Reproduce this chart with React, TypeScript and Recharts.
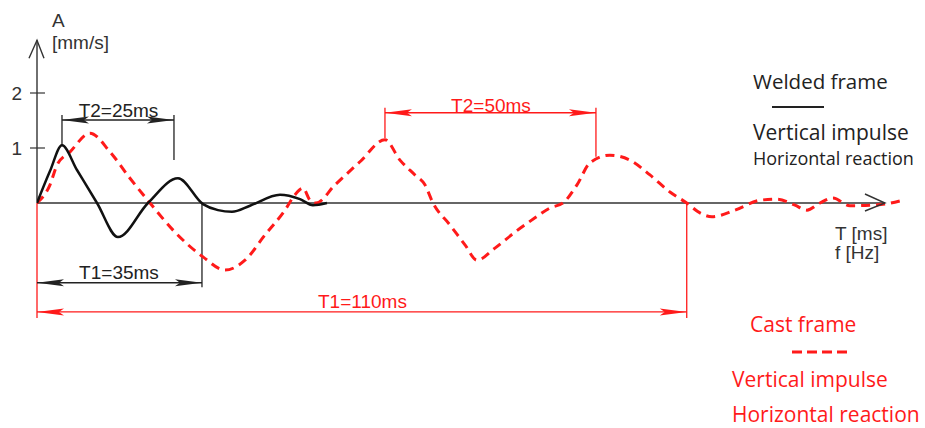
import { LineChart, Line, XAxis, YAxis, ReferenceLine, ReferenceDot } from "recharts";

// welded frame (solid black), time in ms, amplitude in mm/s
const weldedTime = [0, 2.2, 4.23, 6.77, 10.16, 13.71, 18.79, 23.87, 28.1, 30.64, 33.01, 36.06, 41.14, 44.52, 46.72, 49.09];
const weldedAmp = [0, 0.58, 1.05, 0.6, 0, -0.62, 0, 0.45, -0.02, -0.13, -0.16, -0.05, 0.15, 0.07, -0.04, 0];

// cast frame (red dashed)
const castTime = [
  0, 2.2, 3.39, 5.59, 8.97, 12.36, 15.74, 19.13, 23.36, 28.1, 31.83, 35.21, 38.6, 41.98, 43.68, 45.03, 46.22,
  47.23, 50.45, 54.68, 58.91, 61.45, 63.99, 65.68, 67.04, 69.92, 72.46, 74.49, 77.53, 80.92, 84.31, 86.85,
  89.05, 91.42, 93.62, 97.0, 100.39, 103.78, 107.16, 110.0, 112.24, 114.27, 118.17, 122.4, 125.27, 128.32,
  130.35, 132.55, 134.75, 137.63, 141.0, 143.56, 146.6,
];
const castAmp = [
  0, 0.33, 0.69, 0.93, 1.27, 0.93, 0.45, 0, -0.53, -0.98, -1.22, -1.04, -0.58, -0.13, 0.15, 0.27, 0.05,
  0, 0.33, 0.75, 1.15, 0.78, 0.51, 0.33, 0, -0.4, -0.76, -1.04, -0.82, -0.53, -0.27, -0.09,
  0, 0.33, 0.73, 0.87, 0.78, 0.51, 0.2, 0, -0.18, -0.25, -0.13, 0.05, 0.07, -0.04,
  -0.13, 0, 0.09, -0.05, -0.04, -0.02, 0.05,
];

const yTicks = [1, 2];
const xAxisEnd = 143.56;
const yAxisEnd = 2.96;

const welded = weldedTime.map((t, i) => ({ t, a: weldedAmp[i] }));
const cast = castTime.map((t, i) => ({ t, a: castAmp[i] }));

const BLACK = "#222";
const RED = "#ff1a1a";
const ARIAL = "'Liberation Sans', Arial, sans-serif";
const CALIBRI = "'Open Sans', 'Noto Sans', sans-serif";

const head = (dir: "left" | "right", color: string) => (p: any) => {
  const s = dir === "left" ? 1 : -1;
  const { cx, cy } = p;
  return (
    <polygon
      points={`${cx},${cy} ${cx + s * 27},${cy - 3.5} ${cx + s * 22},${cy} ${cx + s * 27},${cy + 3.5}`}
      fill={color}
    />
  );
};

const label = (text: string, color: string) => (p: any) => (
  <text x={p.cx} y={p.cy} textAnchor="middle" fill={color} fontSize={19} fontFamily={ARIAL}>
    {text}
  </text>
);

const yArrow = (p: any) => (
  <polyline
    points={`${p.cx - 8},${p.cy + 18} ${p.cx},${p.cy} ${p.cx + 7},${p.cy + 18}`}
    fill="none"
    stroke="#333"
    strokeWidth={1.4}
  />
);
const xArrow = (p: any) => (
  <polyline
    points={`${p.cx - 20},${p.cy - 9} ${p.cx},${p.cy} ${p.cx - 20},${p.cy + 8}`}
    fill="none"
    stroke="#333"
    strokeWidth={1.4}
  />
);

// dimension lines
const dims = [
  { x1: 4.23, x2: 23.19, y: 1.51, color: BLACK, text: "T2=25ms", tx: 13.8, ty: 1.56 },
  { x1: 0, x2: 27.93, y: -1.45, color: BLACK, text: "T1=35ms", tx: 13.88, ty: -1.38 },
  { x1: 0, x2: 110, y: -1.98, color: RED, text: "T1=110ms", tx: 55.1, ty: -1.91 },
  { x1: 58.91, x2: 94.63, y: 1.64, color: RED, text: "T2=50ms", tx: 76.86, ty: 1.66 },
];

// extension lines
const ext = [
  { x: 4.23, y1: 1.05, y2: 1.6, color: BLACK },
  { x: 23.19, y1: 0.78, y2: 1.6, color: BLACK },
  { x: 27.93, y1: 0, y2: -1.53, color: BLACK },
  { x: 0, y1: 0, y2: -2.09, color: RED },
  { x: 110, y1: 0, y2: -2.09, color: RED },
  { x: 58.91, y1: 1.18, y2: 1.73, color: RED },
  { x: 94.63, y1: 0.84, y2: 1.73, color: RED },
];

export default function App() {
  return (
    <div style={{ position: "absolute", left: 0, top: 0, width: 925, height: 428, background: "#fff" }}>
      <LineChart width={925} height={428} margin={{ top: 5, right: 2, bottom: 5, left: 0 }}>
        <XAxis type="number" dataKey="t" domain={[0, 150]} hide allowDataOverflow />
        <YAxis
          type="number"
          domain={[-4, 3.6]}
          ticks={yTicks}
          width={37}
          axisLine={false}
          tickSize={7}
          tickMargin={8}
          tickLine={{ stroke: "#333", strokeWidth: 1.2 }}
          tick={{ fontSize: 19, fontFamily: ARIAL, fill: "#333" }}
          allowDataOverflow
        />
        <ReferenceLine segment={[{ x: 0, y: 0 }, { x: xAxisEnd, y: 0 }]} stroke="#333" strokeWidth={1.4} />
        <ReferenceLine segment={[{ x: 0, y: 0 }, { x: 0, y: yAxisEnd }]} stroke="#333" strokeWidth={1.4} />
        {yTicks.map((v) => (
          <ReferenceLine key={v} segment={[{ x: 0, y: v }, { x: 1.35, y: v }]} stroke="#333" strokeWidth={1.2} />
        ))}
        <ReferenceDot x={0} y={yAxisEnd} shape={yArrow} />
        <ReferenceDot x={xAxisEnd} y={0} shape={xArrow} />
        {ext.map((e, i) => (
          <ReferenceLine
            key={"e" + i}
            segment={[{ x: e.x, y: e.y1 }, { x: e.x, y: e.y2 }]}
            stroke={e.color}
            strokeWidth={1.3}
          />
        ))}
        {dims.map((d, i) => (
          <ReferenceLine
            key={"d" + i}
            segment={[{ x: d.x1, y: d.y }, { x: d.x2, y: d.y }]}
            stroke={d.color}
            strokeWidth={1.4}
          />
        ))}
        {dims.map((d, i) => (
          <ReferenceDot key={"l" + i} x={d.x1} y={d.y} shape={head("left", d.color)} />
        ))}
        {dims.map((d, i) => (
          <ReferenceDot key={"r" + i} x={d.x2} y={d.y} shape={head("right", d.color)} />
        ))}
        {dims.map((d, i) => (
          <ReferenceDot key={"t" + i} x={d.tx} y={d.ty} shape={label(d.text, d.color)} />
        ))}
        <Line
          data={cast}
          dataKey="a"
          type="monotone"
          stroke={RED}
          strokeWidth={3}
          strokeDasharray="9 6"
          dot={false}
          isAnimationActive={false}
        />
        <Line
          data={welded}
          dataKey="a"
          type="monotone"
          stroke="#111"
          strokeWidth={2.5}
          dot={false}
          isAnimationActive={false}
        />
      </LineChart>
      <svg width={925} height={428} style={{ position: "absolute", left: 0, top: 0, pointerEvents: "none" }}>
        <g fontFamily={ARIAL} fill="#333">
          <text x={52} y={27} fontSize={19}>A</text>
          <text x={52} y={49} fontSize={19}>[mm/s]</text>
          <text x={835} y={240} fontSize={19}>T [ms]</text>
          <text x={835} y={259} fontSize={19}>f [Hz]</text>
        </g>
        <g fontFamily={CALIBRI} fill={BLACK}>
          <text x={753} y={89} fontSize={20.5}>Welded frame</text>
          <line x1={772} x2={824} y1={107} y2={107} stroke={BLACK} strokeWidth={2} />
          <text x={753} y={140} fontSize={21}>Vertical impulse</text>
          <text x={753} y={165} fontSize={18}>Horizontal reaction</text>
        </g>
        <g fontFamily={CALIBRI} fill={RED} fontSize={21}>
          <text x={750} y={332}>Cast frame</text>
          <line x1={792} x2={852} y1={352} y2={352} stroke={RED} strokeWidth={3} strokeDasharray="10 5" />
          <text x={732} y={387}>Vertical impulse</text>
          <text x={732} y={422}>Horizontal reaction</text>
        </g>
      </svg>
    </div>
  );
}
